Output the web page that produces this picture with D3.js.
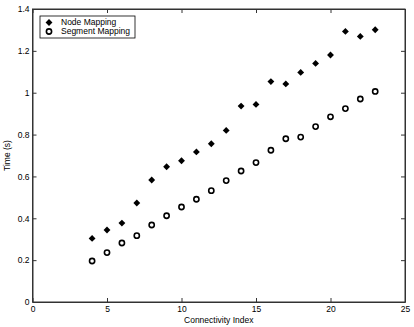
<!DOCTYPE html>
<html>
<head>
<meta charset="utf-8">
<script src="https://cdn.jsdelivr.net/npm/d3@7"></script>
<style>
  body { margin: 0; background: #fff; }
  text { font-family: "Liberation Sans", Arial, sans-serif; fill: #000; }
</style>
</head>
<body>
<div id="chart"></div>
<script>
// Data
const connectivity = [4, 5, 6, 7, 8, 9, 10, 11, 12, 13, 14, 15, 16, 17, 18, 19, 20, 21, 22, 23];
const nodeMapping = [0.304, 0.344, 0.377, 0.473, 0.583, 0.646, 0.675, 0.717, 0.756, 0.82, 0.936, 0.944, 1.053, 1.042, 1.097, 1.14, 1.18, 1.293, 1.269, 1.301];
const segmentMapping = [0.196, 0.236, 0.282, 0.317, 0.368, 0.412, 0.454, 0.491, 0.532, 0.58, 0.626, 0.666, 0.725, 0.78, 0.788, 0.838, 0.885, 0.924, 0.97, 1.006];
const xTicks = [0, 5, 10, 15, 20, 25];
const yTicks = [0, 0.2, 0.4, 0.6, 0.8, 1, 1.2, 1.4];
const seriesNames = ["Node Mapping", "Segment Mapping"];

const W = 414, H = 327;
const margin = { top: 9, right: 9, bottom: 25, left: 32.5 };
const width = W - margin.left - margin.right;
const height = H - margin.top - margin.bottom;

const svg = d3.select("#chart").append("svg")
    .attr("width", W)
    .attr("height", H);

const g = svg.append("g")
    .attr("transform", `translate(${margin.left},${margin.top})`);

const x = d3.scaleLinear().domain([0, 25]).range([0, width]);
const y = d3.scaleLinear().domain([0, 1.4]).range([height, 0]);

// axes box with inward ticks (matlab style)
const tl = 4;
const xAxis = d3.axisBottom(x).tickValues(xTicks).tickSizeInner(-tl).tickSizeOuter(0).tickPadding(4).tickFormat(d3.format("d"));
const yAxis = d3.axisLeft(y).tickValues(yTicks).tickSizeInner(-tl).tickSizeOuter(0).tickPadding(3).tickFormat(d => d);

const gx = g.append("g").attr("transform", `translate(0,${height})`).call(xAxis);
const gy = g.append("g").call(yAxis);
g.append("g").call(d3.axisTop(x).tickValues(xTicks).tickSizeInner(-tl).tickSizeOuter(0).tickFormat(""));
g.append("g").attr("transform", `translate(${width},0)`)
    .call(d3.axisRight(y).tickValues(yTicks).tickSizeInner(-tl).tickSizeOuter(0).tickFormat(""));

g.selectAll(".domain").attr("stroke", "#333");
g.selectAll(".tick line").attr("stroke", "#333");
g.selectAll(".tick text").style("font-size", "8.5px");

g.append("rect")
    .attr("width", width).attr("height", height)
    .attr("fill", "none").attr("stroke", "#333").attr("stroke-width", 1);

// markers
const diamond = d3.symbol().type(d3.symbolDiamond2).size(30);

g.selectAll(".node")
    .data(connectivity)
    .enter().append("path")
    .attr("class", "node")
    .attr("d", diamond)
    .attr("transform", (d, i) => `translate(${x(d)},${y(nodeMapping[i])})`)
    .attr("fill", "#000");

g.selectAll(".seg")
    .data(connectivity)
    .enter().append("circle")
    .attr("class", "seg")
    .attr("cx", d => x(d))
    .attr("cy", (d, i) => y(segmentMapping[i]))
    .attr("r", 2.6)
    .attr("fill", "none")
    .attr("stroke", "#000")
    .attr("stroke-width", 1.6);

// legend
const lg = g.append("g").attr("transform", "translate(7.5,7)");
lg.append("rect").attr("width", 95).attr("height", 22)
    .attr("fill", "#fff").attr("stroke", "#000").attr("stroke-width", 0.8);
lg.append("path").attr("d", diamond).attr("transform", "translate(9,6.5)").attr("fill", "#000");
lg.append("circle").attr("cx", 9).attr("cy", 15.5).attr("r", 2.6)
    .attr("fill", "none").attr("stroke", "#000").attr("stroke-width", 1.6);
lg.selectAll(".lt").data(seriesNames).enter().append("text")
    .attr("x", 21).attr("y", (d, i) => 6.5 + i * 9)
    .attr("dy", "0.35em")
    .style("font-size", "8.5px")
    .text(d => d);

// axis labels
svg.append("text")
    .attr("x", margin.left + width / 2).attr("y", 323)
    .attr("text-anchor", "middle")
    .style("font-size", "8.5px")
    .text("Connectivity Index");

svg.append("text")
    .attr("transform", `translate(10,${margin.top + height / 2}) rotate(-90)`)
    .attr("text-anchor", "middle")
    .style("font-size", "8.5px")
    .text("Time (s)");
</script>
</body>
</html>
